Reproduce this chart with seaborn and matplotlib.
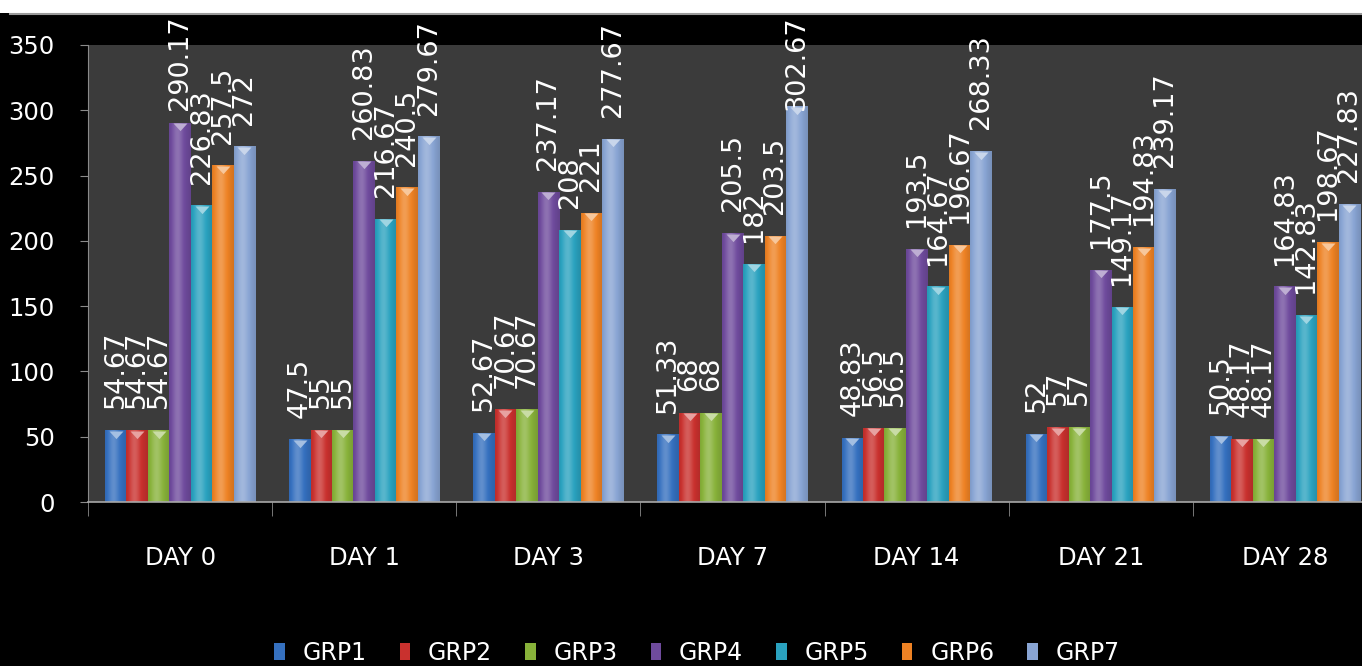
import numpy as np
import pandas as pd
import matplotlib
matplotlib.use("Agg")
import matplotlib.pyplot as plt
import seaborn as sns
from matplotlib.colors import to_rgb
from matplotlib.patches import Patch, Rectangle
from matplotlib.lines import Line2D
from matplotlib.path import Path

# ---- data -------------------------------------------------------------
days = ["DAY 0", "DAY 1", "DAY 3", "DAY 7", "DAY 14", "DAY 21", "DAY 28"]
groups = ["GRP1", "GRP2", "GRP3", "GRP4", "GRP5", "GRP6", "GRP7"]

grp1 = [54.67, 47.5, 52.67, 51.33, 48.83, 52, 50.5]
grp2 = [54.67, 55, 70.67, 68, 56.5, 57, 48.17]
grp3 = [54.67, 55, 70.67, 68, 56.5, 57, 48.17]
grp4 = [290.17, 260.83, 237.17, 205.5, 193.5, 177.5, 164.83]
grp5 = [226.83, 216.67, 208, 182, 164.67, 149.17, 142.83]
grp6 = [257.5, 240.5, 221, 203.5, 196.67, 194.83, 198.67]
grp7 = [272, 279.67, 277.67, 302.67, 268.33, 239.17, 227.83]

y_ticks = [0, 50, 100, 150, 200, 250, 300, 350]

colors = ["#3570bf", "#c9312e", "#88b23a", "#6f4b9d", "#2aa2bf", "#ee8224", "#88a4d3"]

series = [grp1, grp2, grp3, grp4, grp5, grp6, grp7]
df = pd.DataFrame(
    [(d, g, v) for g, vals in zip(groups, series) for d, v in zip(days, vals)],
    columns=["day", "group", "value"],
)

# ---- figure -----------------------------------------------------------
W, H, DPI = 1362, 666, 100
fig = plt.figure(figsize=(W / DPI, H / DPI), dpi=DPI, facecolor="black")
ax = fig.add_axes([88 / W, (H - 502) / H, 1289 / W, 457 / H])
ax.set_facecolor("#3b3b3b")

sns.barplot(
    data=df, x="day", y="value", hue="group",
    order=days, hue_order=groups, palette=colors,
    saturation=1, width=0.815, errorbar=None, linewidth=0,
    legend=False, ax=ax,
)


def lighten(c, f):
    c = np.array(to_rgb(c))
    return tuple(c + (1 - c) * f)


# rounded-cylinder shading across each bar and a bevel triangle at its top
t = np.linspace(0, 1, 40)
profile = 0.22 * np.exp(-((t - 0.38) / 0.25) ** 2) - 0.28 * np.abs(t - 0.45) ** 1.5
tri = Path([(-0.5, 0.0), (0.5, 0.0), (0.0, -0.55), (-0.5, 0.0)],
           [Path.MOVETO, Path.LINETO, Path.LINETO, Path.CLOSEPOLY])

anns = []
for color, cont in zip(colors, ax.containers):
    base = np.array(to_rgb(color))
    shade = np.empty((1, t.size, 3))
    for k, p in enumerate(profile):
        shade[0, k] = base + (1 - base) * p if p > 0 else base * (1 + p)
    xs, hs = [], []
    for bar in cont:
        x0, w, h = bar.get_x(), bar.get_width(), bar.get_height()
        ax.imshow(np.clip(shade, 0, 1), extent=[x0, x0 + w, 0, h], aspect="auto",
                  origin="lower", interpolation="bilinear", zorder=bar.get_zorder() + 0.1)
        xs.append(x0 + w / 2)
        hs.append(h)
    ax.plot(xs, hs, linestyle="none", marker=tri, markersize=11,
            color=lighten(color, 0.55), markeredgewidth=0, zorder=3)
    for x, h in zip(xs, hs):
        anns.append(ax.annotate(
            f"{h:g}", xy=(x, h), xytext=(0, 16), textcoords="offset points",
            rotation=90, ha="center", va="bottom", color="white",
            fontsize=19.5, zorder=5,
        ))

ax.set_xlim(-0.5, len(days) - 0.5)
ax.set_ylim(0, 350)
ax.set_yticks(y_ticks)
ax.set_xlabel("")
ax.set_ylabel("")

for side in ("top", "right"):
    ax.spines[side].set_visible(False)
ax.spines["left"].set_color("#8a8a8a")
ax.spines["bottom"].set_color("#a8a8a8")
ax.spines["bottom"].set_linewidth(1.2)

ax.tick_params(axis="y", colors="#8a8a8a", labelcolor="white", labelsize=17.5,
               length=6, pad=18)
ax.tick_params(axis="x", which="major", length=0, labelcolor="white",
               labelsize=17.5, pad=32)
ax.set_xticks(np.arange(-0.5, len(days), 1), minor=True)
ax.tick_params(axis="x", which="minor", length=10, color="#8a8a8a")

# top banner strip
fig.patches.append(Rectangle((0, 1 - 13 / H), 1, 13 / H, transform=fig.transFigure,
                             facecolor="white", edgecolor="none", zorder=0))
fig.add_artist(Line2D([10 / W, 1], [1 - 14 / H, 1 - 14 / H], transform=fig.transFigure,
                      color="#9a9a9a", linewidth=1.5))

handles = [Patch(facecolor=c, edgecolor="none") for c in colors]
fig.legend(handles, groups, loc="center", bbox_to_anchor=(697 / W, 1 - 653 / H),
           ncol=7, frameon=False, fontsize=17, labelcolor="white",
           handlelength=0.45, handleheight=0.75, handletextpad=0.75,
           columnspacing=1.4)

# keep value labels inside the chart's top edge
fig.canvas.draw()
renderer = fig.canvas.get_renderer()
limit = fig.bbox.height - 15
for a in anns:
    bb = a.get_window_extent(renderer)
    if bb.y1 > limit:
        ox, oy = a.xyann
        a.xyann = (ox, oy - (bb.y1 - limit) * 72 / fig.dpi)

fig.savefig("out.png", dpi=DPI, facecolor="black")
